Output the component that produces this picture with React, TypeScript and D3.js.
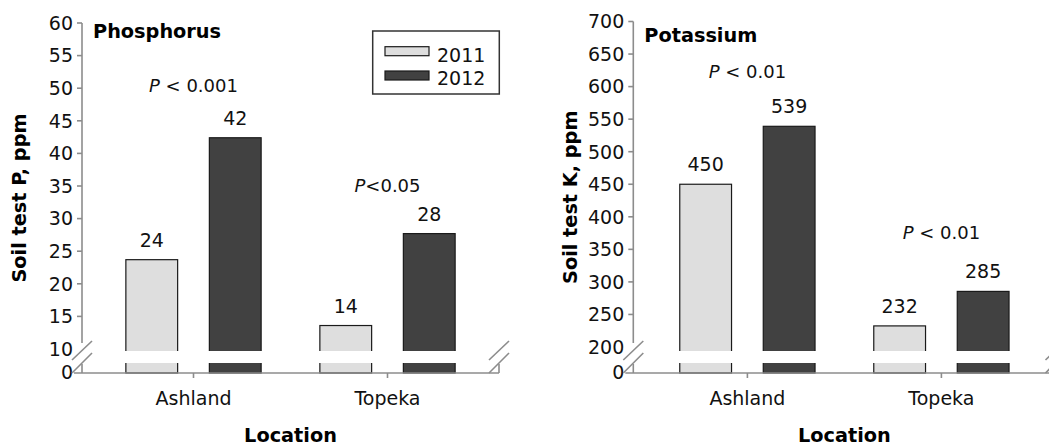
import React from "react";
import * as d3 from "d3";

// ---- data ----
const locations = ["Ashland", "Topeka"];
const years = ["2011", "2012"];
const phosphorus2011 = [23.7, 13.6];
const phosphorus2012 = [42.4, 27.7];
const potassium2011 = [450, 232.4];
const potassium2012 = [539, 285.4];
const phosphorusTicks = [60, 55, 50, 45, 40, 35, 30, 25, 20, 15];
const potassiumTicks = [700, 650, 600, 550, 500, 450, 400, 350, 300, 250];
const phosphorusBreak = 10;
const potassiumBreak = 200;
const phosphorusSig = [" < 0.001", "<0.05"];
const potassiumSig = [" < 0.01", " < 0.01"];

const FONT = "'DejaVu Sans', 'Open Sans', sans-serif";
const FS = 19;
const FS_SIG = 18;
const FS_BOLD = 19.3;
const AXIS = "#8c8c8c";
const LIGHT = "#dedede";
const DARK = "#414141";
const TEXT = "#111";
const BASE_Y = 373;
const GAP_TOP = 351;
const GAP_BOT = 363;

type PanelProps = {
  title: string;
  yTitle: string;
  v2011: number[];
  v2012: number[];
  ticks: number[];
  breakVal: number;
  sig: string[];
  axisX: number;
  xEnd: number;
  yTop: number;
  yBreak: number;
  titleY: number;
  sigY: number[];
};

function Slashes({ x }: { x: number }) {
  return (
    <g stroke={AXIS} strokeWidth={1.6}>
      <line x1={x - 10} y1={360} x2={x + 10} y2={341} />
      <line x1={x - 10} y1={373} x2={x + 10} y2={353} />
    </g>
  );
}

function Panel(p: PanelProps) {
  const y = d3
    .scaleLinear()
    .domain([p.breakVal, p.ticks[0]])
    .range([p.yBreak, p.yTop]);
  const width = p.xEnd - p.axisX;
  const step = 194;
  const pad = (width / step - 1) / 2;
  const x = d3.scalePoint<string>().domain(locations).range([p.axisX, p.xEnd]).padding(pad);
  const inner = d3
    .scaleBand<string>()
    .domain(years)
    .range([-83.5, 83.5])
    .paddingInner(0.38)
    .paddingOuter(0.19);
  const series = [p.v2011, p.v2012];
  const midX = (p.axisX + p.xEnd) / 2;
  const midY = (p.yTop + BASE_Y) / 2;
  return (
    <g fontFamily={FONT}>
      {/* bars */}
      {locations.map((loc, i) =>
        years.map((yr, j) => {
          const v = series[j][i];
          const bx = (x(loc) as number) + (inner(yr) as number);
          const bw = inner.bandwidth();
          const top = y(v);
          return (
            <g key={loc + yr}>
              <rect
                x={bx}
                y={top}
                width={bw}
                height={BASE_Y - top}
                fill={j === 0 ? LIGHT : DARK}
                stroke="#1a1a1a"
                strokeWidth={1.2}
              />
              <text x={bx + bw / 2} y={top - 13} textAnchor="middle" fontSize={FS} fill={TEXT}>
                {Math.round(v)}
              </text>
            </g>
          );
        })
      )}
      {/* break gap */}
      <rect x={p.axisX + 1} y={GAP_TOP} width={width - 2} height={GAP_BOT - GAP_TOP} fill="#fff" />
      {/* y axis */}
      <line x1={p.axisX} y1={p.yTop} x2={p.axisX} y2={343} stroke={AXIS} strokeWidth={1.6} />
      <line x1={p.axisX} y1={364} x2={p.axisX} y2={BASE_Y} stroke={AXIS} strokeWidth={1.6} />
      {p.ticks.map((t) => (
        <g key={t}>
          <line x1={p.axisX - 5} y1={y(t)} x2={p.axisX} y2={y(t)} stroke={AXIS} strokeWidth={1.6} />
          <text x={p.axisX - 9} y={y(t)} dy="0.36em" textAnchor="end" fontSize={FS} fill={TEXT}>
            {t}
          </text>
        </g>
      ))}
      <text x={p.axisX - 9} y={y(p.breakVal)} dy="0.36em" textAnchor="end" fontSize={FS} fill={TEXT}>
        {p.breakVal}
      </text>
      <text x={p.axisX - 9} y={BASE_Y - 1} dy="0.36em" textAnchor="end" fontSize={FS} fill={TEXT}>
        0
      </text>
      <Slashes x={p.axisX} />
      {/* x axis */}
      <line x1={p.axisX - 8} y1={BASE_Y} x2={p.xEnd} y2={BASE_Y} stroke={AXIS} strokeWidth={1.6} />
      <line x1={p.xEnd} y1={364} x2={p.xEnd} y2={BASE_Y} stroke={AXIS} strokeWidth={1.6} />
      <Slashes x={p.xEnd} />
      {locations.map((loc) => (
        <g key={loc}>
          <line x1={x(loc)} y1={BASE_Y} x2={x(loc)} y2={BASE_Y + 5} stroke={AXIS} strokeWidth={1.6} />
          <text x={x(loc)} y={405} textAnchor="middle" fontSize={FS} fill={TEXT}>
            {loc}
          </text>
        </g>
      ))}
      {/* significance */}
      {locations.map((loc, i) => (
        <text key={"s" + loc} x={x(loc)} y={p.sigY[i]} textAnchor="middle" fontSize={FS_SIG} fill={TEXT}>
          <tspan fontStyle="italic">P</tspan>
          <tspan>{p.sig[i]}</tspan>
        </text>
      ))}
      {/* titles */}
      <text x={p.axisX + 11} y={p.titleY} fontSize={FS_BOLD} fontWeight="bold" fill="#000">
        {p.title}
      </text>
      <text
        transform={`translate(${p.axisX - 56},${midY}) rotate(-90)`}
        textAnchor="middle"
        fontSize={FS_BOLD}
        fontWeight="bold"
        fill="#000"
      >
        {p.yTitle}
      </text>
      <text x={midX} y={442} textAnchor="middle" fontSize={FS_BOLD} fontWeight="bold" fill="#000">
        Location
      </text>
    </g>
  );
}

export default function App() {
  return (
    <div style={{ position: "absolute", left: 0, top: 0 }}>
      <svg width={1049} height={447} style={{ display: "block", background: "#fff" }}>
        <Panel
          title="Phosphorus"
          yTitle="Soil test P, ppm"
          v2011={phosphorus2011}
          v2012={phosphorus2012}
          ticks={phosphorusTicks}
          breakVal={phosphorusBreak}
          sig={phosphorusSig}
          axisX={82}
          xEnd={499}
          yTop={23}
          yBreak={349}
          titleY={38}
          sigY={[92, 192]}
        />
        <Panel
          title="Potassium"
          yTitle="Soil test K, ppm"
          v2011={potassium2011}
          v2012={potassium2012}
          ticks={potassiumTicks}
          breakVal={potassiumBreak}
          sig={potassiumSig}
          axisX={633.3}
          xEnd={1055.5}
          yTop={21.5}
          yBreak={347}
          titleY={42}
          sigY={[77.7, 239.3]}
        />
        {/* legend */}
        <g fontFamily={FONT}>
          <rect x={372.7} y={31} width={126.6} height={63} fill="#fff" stroke="#333" strokeWidth={1.5} />
          {years.map((yr, j) => (
            <g key={yr}>
              <rect
                x={385}
                y={j === 0 ? 46.7 : 71}
                width={44}
                height={9}
                fill={j === 0 ? LIGHT : DARK}
                stroke="#1a1a1a"
                strokeWidth={1.2}
              />
              <text x={437} y={j === 0 ? 61.5 : 85} fontSize={FS} fill={TEXT}>
                {yr}
              </text>
            </g>
          ))}
        </g>
      </svg>
    </div>
  );
}
